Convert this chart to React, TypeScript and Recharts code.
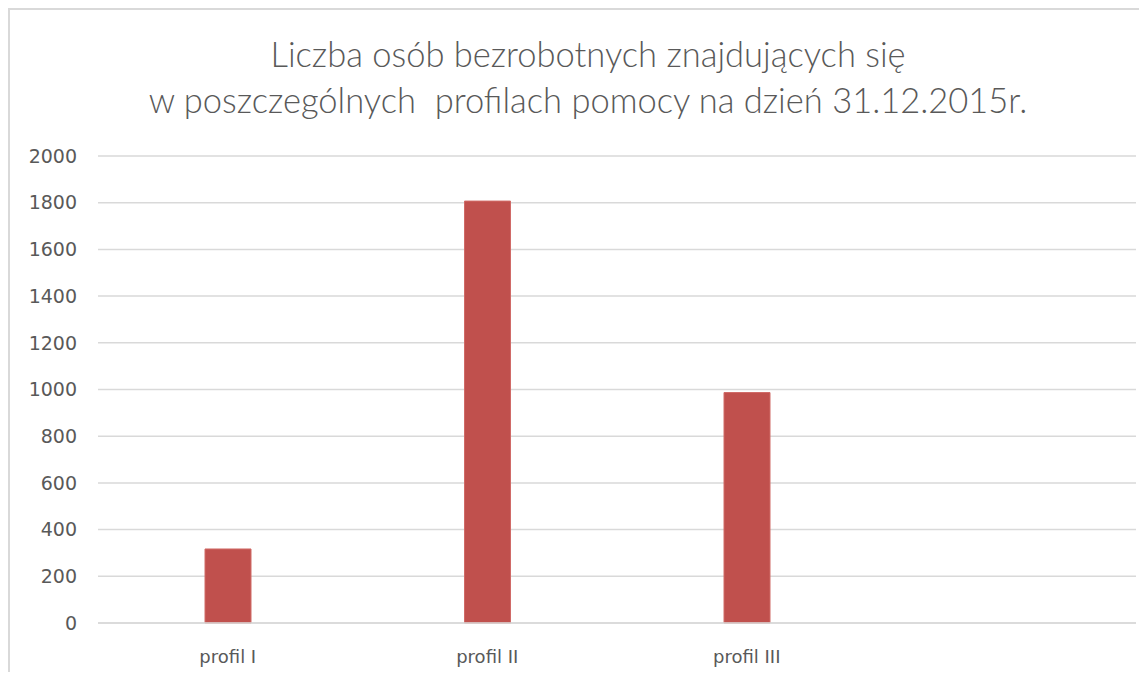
import { BarChart, Bar, XAxis, YAxis, CartesianGrid } from 'recharts'

const categories = ['profil I', 'profil II', 'profil III', ' ']
const values: (number | null)[] = [317, 1807, 987, null]
const yTicks = [0, 200, 400, 600, 800, 1000, 1200, 1400, 1600, 1800, 2000]
const titleLines = [
  'Liczba osób bezrobotnych znajdujących się',
  'w poszczególnych  profilach pomocy na dzień 31.12.2015r.',
]

const data = categories.map((name, i) => ({ name, value: values[i] }))

const labelColor = '#595959'
const gridColor = '#d9d9d9'

export default function App() {
  return (
    <div
      style={{
        position: 'relative',
        width: 1138,
        height: 662,
        borderTop: `2px solid ${gridColor}`,
        borderLeft: `2px solid ${gridColor}`,
        background: '#fff',
      }}
    >
      <div
        style={{
          position: 'absolute',
          left: 0,
          width: 1156,
          top: 21,
          textAlign: 'center',
          fontFamily: 'Lato, sans-serif',
          fontWeight: 300,
          fontSize: 34.5,
          lineHeight: '46px',
          color: labelColor,
          whiteSpace: 'pre',
        }}
      >
        {titleLines.map((t) => (
          <div key={t}>{t}</div>
        ))}
      </div>
      <BarChart
        width={1137}
        height={660}
        data={data}
        margin={{ top: 146, right: 11, bottom: 7, left: 0 }}
        barSize={46}
      >
        <CartesianGrid vertical={false} stroke={gridColor} strokeWidth={1.5} />
        <XAxis
          dataKey="name"
          axisLine={{ stroke: gridColor, strokeWidth: 1.5 }}
          tickLine={false}
          tickSize={0}
          tickMargin={27}
          height={40}
          tick={{ fontSize: 18, fill: labelColor, fontFamily: 'DejaVu Sans' }}
        />
        <YAxis
          domain={[0, 2000]}
          ticks={yTicks}
          axisLine={false}
          tickLine={false}
          tickSize={0}
          tickMargin={21}
          width={88}
          tick={{ fontSize: 19, fill: labelColor, fontFamily: 'DejaVu Sans' }}
        />
        <Bar dataKey="value" fill="#c0504d" stroke="#d06a67" strokeWidth={1} isAnimationActive={false} />
      </BarChart>
    </div>
  )
}
